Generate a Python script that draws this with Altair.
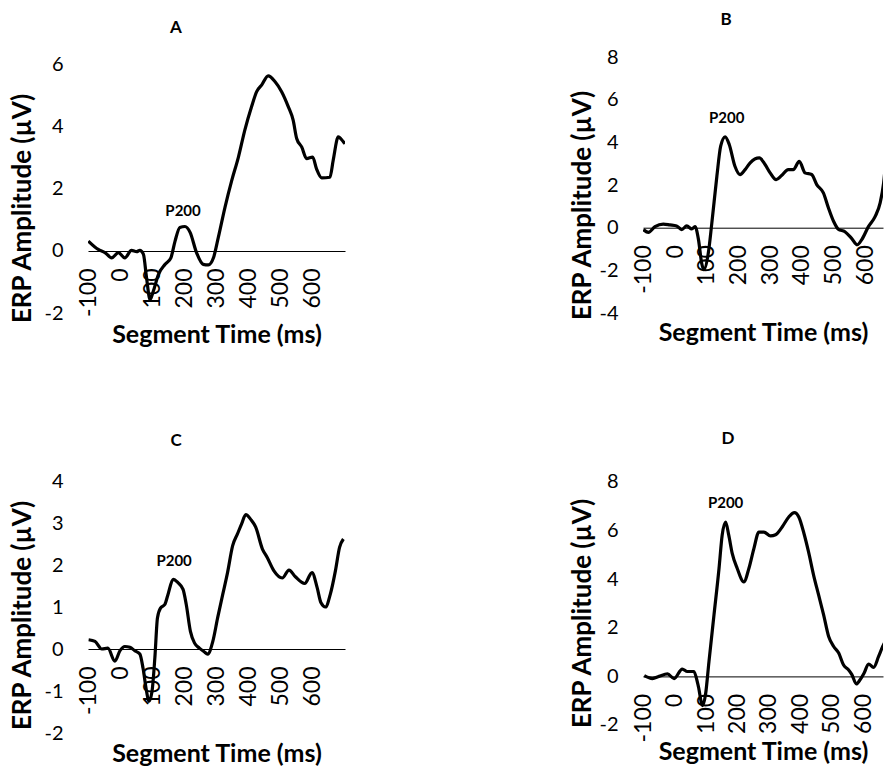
import altair as alt
import pandas as pd

# ---- data ----
X_TICKS = [-100, 0, 100, 200, 300, 400, 500, 600]

A_t = [-102, -71, -50, -29, -8, 12, 33, 49, 59, 70, 80, 91, 101, 117, 138, 156, 169, 184, 200, 216, 236, 257, 273, 289,
       304, 325, 346, 367, 387, 408, 424, 440, 460, 481, 502, 523, 538, 549, 565, 580, 599, 611, 627, 653, 663, 679,
       695, 700]
A_v = [0.32, 0.05, -0.05, -0.22, -0.05, -0.22, 0.02, -0.02, 0.02, -0.1, -0.87, -1.57, -1.3, -0.76, -0.43, -0.22, 0.32,
       0.76, 0.79, 0.6, -0.05, -0.43, -0.45, -0.22, 0.43, 1.41, 2.27, 3.03, 3.9, 4.65, 5.14, 5.36, 5.65, 5.47, 5.14,
       4.65, 4.22, 3.63, 3.35, 2.98, 3.03, 2.65, 2.36, 2.38, 2.92, 3.68, 3.52, 3.46]

B_t = [-100, -84, -63, -37, -16, 5, 21, 37, 53, 63, 74, 84, 91, 105, 116, 132, 144, 158, 171, 189, 205, 221, 237, 266,
       284, 300, 319, 336, 357, 373, 392, 410, 431, 447, 468, 484, 500, 515, 536, 557, 575, 589, 610, 631, 647, 658,
       668, 679, 689]
B_v = [-0.09, -0.22, 0.05, 0.17, 0.13, 0.08, -0.09, 0.08, -0.06, 0.05, -0.56, -1.66, -1.97, -1.19, 0.2, 2.41, 3.82,
       4.26, 3.9, 2.88, 2.49, 2.72, 3.04, 3.27, 2.96, 2.57, 2.25, 2.44, 2.72, 2.72, 3.11, 2.57, 2.49, 2.02, 1.63, 0.92,
       0.30, -0.07, -0.19, -0.5, -0.8, -0.56, 0.05, 0.52, 1.16, 2.1, 3.66, 5.38, 7.26]

C_t = [-101, -81, -60, -41, -19, -3, 12, 28, 43, 59, 69, 80, 87, 97, 106, 114, 124, 137, 147, 163, 178, 194, 204, 217,
       230, 245, 259, 271, 287, 302, 318, 333, 349, 364, 377, 390, 406, 421, 442, 457, 478, 504, 525, 545, 574, 597,
       613, 625, 639, 654, 670, 683, 695]
C_v = [0.22, 0.18, 0, 0.02, -0.29, -0.04, 0.06, 0.04, -0.04, -0.12, -0.46, -1.01, -1.25, -1.01, -0.2, 0.74, 0.98, 1.06,
       1.3, 1.66, 1.58, 1.42, 1.06, 0.42, 0.14, 0.02, -0.06, -0.12, 0.18, 0.74, 1.3, 1.82, 2.46, 2.74, 2.98, 3.2, 3.08,
       2.9, 2.38, 2.18, 1.86, 1.69, 1.88, 1.72, 1.56, 1.82, 1.46, 1.1, 1.0, 1.3, 1.86, 2.42, 2.62]

D_t = [-97, -71, -50, -23, -2, 24, 40, 61, 74, 89, 98, 109, 125, 141, 151, 162, 172, 183, 199, 220, 236, 252, 268, 284,
       305, 321, 342, 363, 381, 395, 411, 426, 442, 458, 474, 490, 506, 522, 537, 553, 564, 578, 590, 603, 617, 633,
       649, 662, 675, 686, 696]
D_v = [0.03, -0.09, 0, 0.1, -0.09, 0.3, 0.2, 0.2, -0.34, -1.2, -0.75, 0.61, 2.53, 4.44, 5.81, 6.35, 5.81, 5.06, 4.44,
       3.89, 4.44, 5.26, 5.94, 5.94, 5.78, 5.83, 6.15, 6.56, 6.74, 6.56, 5.9, 5.12, 4.17, 3.35, 2.53, 1.64, 1.23, 0.96,
       0.48, 0.27, 0.07, -0.31, -0.14, 0.14, 0.51, 0.37, 0.82, 1.23, 1.57, 1.91, 2.19]

PANEL_TITLES = ["A", "B", "C", "D"]
P200_TEXT = "P200"
P200_T = [194, 163, 166, 162]
P200_V = [1.3, 5.15, 2.1, 7.15]

Y_TICKS_A = [-2, 0, 2, 4, 6]
Y_TICKS_B = [-4, -2, 0, 2, 4, 6, 8]
Y_TICKS_C = [-2, -1, 0, 1, 2, 3, 4]
Y_TICKS_D = [-2, 0, 2, 4, 6, 8]

FONT = "Lato"


def panel(t, v, idx, xdom, ydom, yticks, width, height, xoffset, xtitle_y, ytitle_x, ytitle_y, toff, tdx):
    df = pd.DataFrame({"t": t, "v": v})
    lab = pd.DataFrame({"t": [P200_T[idx]], "v": [P200_V[idx]], "label": [P200_TEXT]})
    X = alt.X("t:Q",
              scale=alt.Scale(domain=xdom, nice=False, zero=False),
              axis=alt.Axis(values=X_TICKS, labelExpr="'' + datum.value", labelAngle=270,
                            labelFontSize=23, labelPadding=17, labelColor="black",
                            labelFlush=False, labelOverlap=False, labelBound=False,
                            ticks=False, tickSize=0, grid=False,
                            domainColor="black", domainWidth=1, offset=xoffset,
                            title="Segment Time (ms)", titleFontSize=25, titleFontWeight="bold",
                            titleColor="black", titleY=xtitle_y, titleBaseline="alphabetic"))
    Y = alt.Y("v:Q",
              scale=alt.Scale(domain=ydom, nice=False, zero=False),
              axis=alt.Axis(values=yticks, labelExpr="'' + datum.value", labelFontSize=20,
                            labelPadding=25, labelColor="black", domain=False, ticks=False,
                            grid=False, labelFlush=False, labelOverlap=False,
                            title="ERP Amplitude (µV)", titleFontSize=26, titleFontWeight="bold",
                            titleColor="black", titleAngle=270, titleAlign="center",
                            titleBaseline="middle", titleX=ytitle_x, titleY=ytitle_y))
    line = alt.Chart(df).mark_line(color="black", strokeWidth=3.2, interpolate="monotone",
                                   clip=True).encode(x=X, y=Y)
    text = alt.Chart(lab).mark_text(fontSize=15, fontWeight="bold", color="black",
                                    align="center", baseline="middle").encode(x=X, y=Y, text="label:N")
    return alt.layer(line, text).properties(
        width=width, height=height,
        title=alt.TitleParams(text=PANEL_TITLES[idx], fontSize=17, fontWeight="bold", color="black",
                              anchor="middle", frame="group", baseline="alphabetic", offset=toff, dx=tdx))


pA = panel(A_t, A_v, 0, [-103, 700], [-2, 6.258], Y_TICKS_A, 257, 256, -62, 91, -66, 151, 5, -40.5)
pB = panel(B_t, B_v, 1, [-101, 656], [-4, 8], Y_TICKS_B, 240, 256, -85.3, 113, -61, 148, 5, -37)
pC = panel(C_t, C_v, 2, [-103, 700], [-2, 4], Y_TICKS_C, 257, 252, -84, 112, -66, 134, 8, -40.5)
pD = panel(D_t, D_v, 3, [-101, 663], [-2.33, 8.04], Y_TICKS_D, 240, 252, -56.6, 83, -61, 132, 11, -35)

chart = alt.concat(pA, pB, pC, pD, columns=2, spacing={"row": 168, "column": 298}, bounds="flush").properties(
    padding={"left": 0, "top": 2, "right": 0, "bottom": 0}
).configure(font=FONT).configure_view(stroke="transparent")

chart.save("out.html", embed_options={"renderer": "svg", "actions": False})
